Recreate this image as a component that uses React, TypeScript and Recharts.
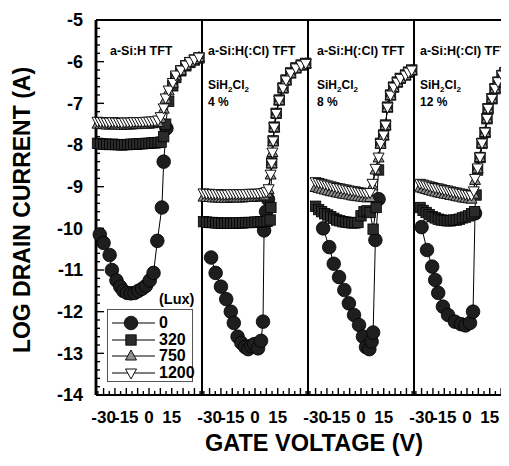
import React from 'react';
import { ComposedChart, Line, XAxis, YAxis, Legend, ReferenceLine } from 'recharts';

type Pt = [number, number];

const FONT = '"Liberation Sans", Arial, Helvetica, sans-serif';

// ---------- labels / categories ----------
const LUX_LEVELS = ['0', '320', '750', '1200'];
const MARKERS = ['circle', 'square', 'up', 'down'];
const PANEL_TITLES = ['a-Si:H TFT', 'a-Si:H(:Cl) TFT', 'a-Si:H(:Cl) TFT', 'a-Si:H(:Cl) TFT'];
const PANEL_GAS = ['', '4 %', '8 %', '12 %'];
const X_LABELS = [-30, -15, 0, 15];
const X_TICKS = [-33.75, -30, -26.25, -22.5, -18.75, -15, -11.25, -7.5, -3.75, 0, 3.75, 7.5, 11.25, 15, 18.75, 22.5, 26.25, 30, 33.75];
const Y_LABELS = [-14, -13, -12, -11, -10, -9, -8, -7, -6, -5];
const PANEL_SPAN = 70; // each panel shows gate voltage -35 .. 35 V
const X_DOMAIN: [number, number] = [-35, -35 + 4 * PANEL_SPAN];
const Y_DOMAIN: [number, number] = [-14, -5];
const X_TITLE = 'GATE VOLTAGE (V)';
const Y_TITLE = 'LOG DRAIN CURRENT (A)';
const LEGEND_UNIT = '(Lux)';

// ---------- panel 1 : a-Si:H TFT ----------
const P1_LUX0: Pt[] = [[-32.5, -10.15], [-30, -10.35], [-26, -10.64], [-24.5, -11.0], [-21.5, -11.25], [-19, -11.4], [-17, -11.5], [-14.5, -11.55], [-12, -11.56], [-9.5, -11.55], [-7, -11.5], [-4.5, -11.45], [-2, -11.38], [0.5, -11.25], [3, -11.07], [5.5, -10.3], [8.5, -9.5], [9.7, -8.4], [11.5, -7.6]];
const P1_LUX320: Pt[] = [[-34, -7.96], [-32, -7.97], [-30, -7.98], [-28, -7.98], [-26, -7.99], [-24, -7.98], [-22, -7.99], [-20, -7.99], [-18, -8.0], [-16, -7.99], [-14, -7.99], [-12, -7.98], [-10, -7.98], [-8, -7.98], [-6, -7.97], [-4, -7.97], [-2, -7.96], [0, -7.96], [2, -7.95], [4, -7.95], [6, -7.94], [8, -7.93], [9.7, -7.8], [11, -7.5], [13, -6.95], [15.7, -6.58], [17.7, -6.38], [21, -6.22], [24.3, -6.1], [27, -6.02], [30, -5.96], [33, -5.91]];
const P1_LUX750: Pt[] = [[-34, -7.5], [-32, -7.51], [-30, -7.51], [-28, -7.52], [-26, -7.52], [-24, -7.51], [-22, -7.52], [-20, -7.52], [-18, -7.53], [-16, -7.52], [-14, -7.52], [-12, -7.52], [-10, -7.51], [-8, -7.51], [-6, -7.51], [-4, -7.5], [-2, -7.5], [0, -7.5], [2, -7.49], [4, -7.48], [6, -7.46], [7.7, -7.36], [9.7, -7.14], [11, -6.9], [13, -6.7], [15.7, -6.52], [17.7, -6.34], [21, -6.21], [24.3, -6.09], [27, -6.01], [30, -5.95], [33, -5.9]];
const P1_LUX1200: Pt[] = [[-34, -7.43], [-32, -7.44], [-30, -7.44], [-28, -7.45], [-26, -7.45], [-24, -7.44], [-22, -7.45], [-20, -7.45], [-18, -7.46], [-16, -7.45], [-14, -7.45], [-12, -7.45], [-10, -7.44], [-8, -7.44], [-6, -7.44], [-4, -7.44], [-2, -7.43], [0, -7.43], [2, -7.42], [4, -7.42], [6, -7.4], [7.7, -7.32], [9.7, -7.11], [11, -6.87], [13, -6.68], [15.7, -6.5], [17.7, -6.32], [21, -6.2], [24.3, -6.08], [27, -6.0], [30, -5.94], [33, -5.89]];

// ---------- panel 2 : SiH2Cl2 4 % ----------
const P2_LUX0: Pt[] = [[-29, -10.7], [-26, -11.07], [-22.5, -11.4], [-19, -11.7], [-16, -12.0], [-14, -12.27], [-11.5, -12.6], [-9, -12.75], [-6.5, -12.85], [-4.5, -12.9], [-2.5, -12.82], [-0.5, -12.78], [2, -12.88], [4, -12.7], [5.3, -12.24], [6, -10.05], [7.3, -9.6], [8.6, -9.3]];
const P2_LUX320: Pt[] = [[-34, -9.84], [-32, -9.85], [-30, -9.86], [-28, -9.86], [-26, -9.87], [-24, -9.87], [-22, -9.88], [-20, -9.88], [-18, -9.87], [-16, -9.88], [-14, -9.88], [-12, -9.87], [-10, -9.87], [-8, -9.87], [-6, -9.86], [-4, -9.86], [-2, -9.86], [0, -9.85], [2, -9.85], [4, -9.84], [6, -9.84], [8, -9.83], [10, -9.8], [10.5, -9.5], [11, -8.43], [12, -7.9], [12.7, -7.57], [14, -7.24], [16, -6.92], [18.5, -6.63], [20.5, -6.44], [23.5, -6.27], [27, -6.15], [30.5, -6.08], [33.5, -6.04]];
const P2_LUX750: Pt[] = [[-34, -9.25], [-32, -9.26], [-30, -9.26], [-28, -9.27], [-26, -9.27], [-24, -9.27], [-22, -9.28], [-20, -9.28], [-18, -9.28], [-16, -9.27], [-14, -9.27], [-12, -9.27], [-10, -9.27], [-8, -9.27], [-6, -9.26], [-4, -9.26], [-2, -9.26], [0, -9.25], [2, -9.25], [4, -9.24], [6, -9.22], [8, -9.15], [9, -9.07], [10.3, -8.72], [11, -8.45], [11.5, -8.18], [12, -7.92], [12.7, -7.58], [14, -7.25], [16, -6.93], [18.5, -6.64], [20.5, -6.45], [23.5, -6.28], [27, -6.16], [30.5, -6.09], [33.5, -6.05]];
const P2_LUX1200: Pt[] = [[-34, -9.15], [-32, -9.16], [-30, -9.16], [-28, -9.17], [-26, -9.17], [-24, -9.17], [-22, -9.18], [-20, -9.18], [-18, -9.18], [-16, -9.17], [-14, -9.17], [-12, -9.17], [-10, -9.17], [-8, -9.17], [-6, -9.17], [-4, -9.16], [-2, -9.16], [0, -9.16], [2, -9.16], [4, -9.15], [6, -9.14], [7.5, -9.12], [9, -9.05], [10.3, -8.7], [11, -8.43], [11.5, -8.17], [12, -7.9], [12.7, -7.57], [14, -7.24], [16, -6.92], [18.5, -6.63], [20.5, -6.44], [23.5, -6.27], [27, -6.15], [30.5, -6.08], [33.5, -6.04]];

// ---------- panel 3 : SiH2Cl2 8 % ----------
const P3_LUX0: Pt[] = [[-25, -10.0], [-21, -10.45], [-18, -10.85], [-14.5, -11.17], [-11, -11.48], [-8, -11.8], [-4.6, -12.08], [-1.3, -12.32], [1.3, -12.6], [3.3, -12.85], [5.5, -12.9], [7, -12.72], [8, -12.5], [9.5, -10.28], [11.6, -9.3]];
const P3_LUX320: Pt[] = [[-30, -9.47], [-28, -9.55], [-26, -9.6], [-24, -9.65], [-22, -9.68], [-20, -9.72], [-18, -9.76], [-16, -9.8], [-14, -9.82], [-12, -9.84], [-10, -9.85], [-8, -9.86], [-6, -9.87], [-4, -9.87], [-2, -9.86], [0, -9.7], [2, -9.6], [4, -9.58], [6, -9.62], [8, -10.02], [10, -9.5], [11.6, -8.6], [12.9, -7.96], [14.9, -7.76], [16.2, -7.52], [17.5, -7.09], [19.5, -6.8], [21.5, -6.61], [24, -6.49], [26, -6.4], [29.4, -6.32], [31.4, -6.25], [33.5, -6.2]];
const P3_LUX750: Pt[] = [[-30, -9.02], [-28, -9.04], [-26, -9.06], [-24, -9.08], [-22, -9.1], [-20, -9.12], [-18, -9.13], [-16, -9.15], [-14, -9.16], [-12, -9.18], [-10, -9.19], [-8, -9.2], [-6, -9.22], [-4, -9.23], [-2, -9.24], [0, -9.25], [2, -9.26], [4, -9.27], [6, -9.26], [7.6, -8.98], [9.6, -8.6], [11.6, -8.31], [12.9, -7.98], [14.9, -7.77], [16.2, -7.53], [17.5, -7.1], [19.5, -6.81], [21.5, -6.62], [24, -6.5], [26, -6.41], [29.4, -6.33], [31.4, -6.26], [33.5, -6.21]];
const P3_LUX1200: Pt[] = [[-30, -8.88], [-28, -8.9], [-26, -8.92], [-24, -8.94], [-22, -8.96], [-20, -8.98], [-18, -9.0], [-16, -9.02], [-14, -9.03], [-12, -9.05], [-10, -9.06], [-8, -9.08], [-6, -9.09], [-4, -9.1], [-2, -9.12], [0, -9.13], [2, -9.14], [4, -9.15], [6, -9.14], [7.6, -8.92], [9.6, -8.56], [11.6, -8.29], [12.9, -7.96], [14.9, -7.76], [16.2, -7.52], [17.5, -7.09], [19.5, -6.8], [21.5, -6.61], [24, -6.49], [26, -6.4], [29.4, -6.32], [31.4, -6.25], [33.5, -6.2]];

// ---------- panel 4 : SiH2Cl2 12 % ----------
const P4_LUX0: Pt[] = [[-30, -9.97], [-26.4, -10.52], [-23, -10.92], [-21, -11.24], [-19, -11.55], [-15.9, -11.88], [-12.5, -12.08], [-8, -12.24], [-4, -12.3], [-1, -12.33], [2, -12.27], [4, -12.0], [5.3, -9.64]];
const P4_LUX320: Pt[] = [[-31, -9.5], [-29, -9.57], [-27, -9.62], [-25, -9.67], [-23, -9.72], [-21, -9.75], [-19, -9.78], [-17, -9.8], [-15, -9.81], [-13, -9.82], [-11, -9.82], [-9, -9.8], [-7, -9.8], [-5, -9.78], [-3, -9.75], [-1, -9.73], [1, -9.7], [3, -9.65], [5, -9.6], [6, -9.2], [7, -8.6], [8.6, -8.3], [9.9, -7.96], [11.9, -7.7], [13.2, -7.37], [13.9, -7.13], [16.5, -6.89], [18.5, -6.65], [20.5, -6.49], [23.1, -6.33], [25.1, -6.26], [27, -6.16], [30, -6.09], [33, -6.04]];
const P4_LUX750: Pt[] = [[-31, -9.03], [-29, -9.05], [-27, -9.07], [-25, -9.09], [-23, -9.11], [-21, -9.13], [-19, -9.15], [-17, -9.16], [-15, -9.18], [-13, -9.19], [-11, -9.21], [-9, -9.22], [-7, -9.24], [-5, -9.25], [-3, -9.27], [-1, -9.28], [1, -9.29], [3, -9.3], [4.5, -9.18], [5.3, -8.85], [7, -8.57], [8.6, -8.3], [9.9, -7.96], [11.9, -7.7], [13.2, -7.37], [13.9, -7.13], [16.5, -6.89], [18.5, -6.65], [20.5, -6.49], [23.1, -6.33], [25.1, -6.26], [27, -6.16], [30, -6.09], [33, -6.04]];
const P4_LUX1200: Pt[] = [[-31, -8.92], [-29, -8.94], [-27, -8.96], [-25, -8.98], [-23, -9.0], [-21, -9.02], [-19, -9.03], [-17, -9.05], [-15, -9.07], [-13, -9.08], [-11, -9.1], [-9, -9.12], [-7, -9.13], [-5, -9.15], [-3, -9.16], [-1, -9.18], [1, -9.19], [3, -9.2], [4.5, -9.1], [5.3, -8.8], [7, -8.55], [8.6, -8.29], [9.9, -7.95], [11.9, -7.69], [13.2, -7.36], [13.9, -7.12], [16.5, -6.88], [18.5, -6.64], [20.5, -6.48], [23.1, -6.32], [25.1, -6.25], [27, -6.15], [30, -6.08], [33, -6.03]];

const PANELS: Pt[][][] = [
  [P1_LUX0, P1_LUX320, P1_LUX750, P1_LUX1200],
  [P2_LUX0, P2_LUX320, P2_LUX750, P2_LUX1200],
  [P3_LUX0, P3_LUX320, P3_LUX750, P3_LUX1200],
  [P4_LUX0, P4_LUX320, P4_LUX750, P4_LUX1200],
];

// panel k is placed on a shared axis, shifted by k * PANEL_SPAN
const panelOf = (val: number) => Math.floor((val - X_DOMAIN[0]) / PANEL_SPAN);
const localV = (val: number) => Math.round((val - panelOf(val) * PANEL_SPAN) * 1000) / 1000;
const ALL_X_TICKS = [0, 1, 2, 3].flatMap((k) => X_TICKS.map((t) => t + k * PANEL_SPAN));
const DIVIDERS = [1, 2, 3].map((k) => X_DOMAIN[0] + k * PANEL_SPAN);
const Y_TICKS: number[] = Y_LABELS.flatMap((v, i) =>
  i < Y_LABELS.length - 1 ? [0, 0.2, 0.4, 0.6, 0.8].map((d) => Math.round((v + d) * 10) / 10) : [v]
);

const CHART_W = 520;
const CHART_H = 466;
const PLOT_W = CHART_W - 96;
const PLOT_H = CHART_H - 20 - 71;
// inward tick-mark lengths, expressed in data units so the chart scales place them
const PX_PER_V = PLOT_W / (X_DOMAIN[1] - X_DOMAIN[0]);
const PX_PER_DEC = PLOT_H / (Y_DOMAIN[1] - Y_DOMAIN[0]);
const X_TICK_SEGS = ALL_X_TICKS.map((t) => {
  const v = localV(t);
  const major = Math.abs(v / 7.5 - Math.round(v / 7.5)) < 1e-6;
  return [{ x: t, y: Y_DOMAIN[0] }, { x: t, y: Y_DOMAIN[0] + (major ? 7 : 4) / PX_PER_DEC }];
});
const Y_TICK_SEGS = Y_TICKS.map((t) => {
  const major = Math.abs(t - Math.round(t)) < 1e-6;
  return [{ x: X_DOMAIN[0], y: t }, { x: X_DOMAIN[0] + (major ? 8 : 4) / PX_PER_V, y: t }];
});

function Marker({ shape, cx, cy }: { shape: string; cx: number; cy: number }) {
  if (cx == null || cy == null || isNaN(cx) || isNaN(cy)) return null;
  if (shape === 'circle') return <circle cx={cx} cy={cy} r={6.8} fill="#1e1e1e" stroke="#000" strokeWidth={0.8} />;
  if (shape === 'square') return <rect x={cx - 5.2} y={cy - 5.2} width={10.4} height={10.4} fill="#2b2b2b" stroke="#000" strokeWidth={0.8} />;
  if (shape === 'up')
    return <polygon points={`${cx},${cy - 6} ${cx - 5.5},${cy + 4} ${cx + 5.5},${cy + 4}`} fill="#8e8e8e" stroke="#111" strokeWidth={1} />;
  return <polygon points={`${cx},${cy + 6} ${cx - 5.5},${cy - 4} ${cx + 5.5},${cy - 4}`} fill="#ffffff" stroke="#111" strokeWidth={1} />;
}

// tick props: y = axis line + tickSize(6) + tickMargin(2)
const XTick = (props: any) => {
  const x = Number(props.x);
  const axisY = Number(props.y) - 8;
  const v = localV(Number(props.payload.value));
  if (!X_LABELS.includes(v)) return <g />;
  return (
    <text x={x} y={axisY + 28} textAnchor="middle" fontFamily={FONT} fontWeight="bold" fontSize={17} fill="#000">
      {v}
    </text>
  );
};

const YTick = (props: any) => {
  const axisX = Number(props.x) + 8;
  const y = Number(props.y);
  const v = Number(props.payload.value);
  const major = Math.abs(v - Math.round(v)) < 1e-6;
  if (!major) return <g />;
  return (
    <text x={axisX - 13} y={y} dy="0.36em" textAnchor="end" fontFamily={FONT} fontWeight="bold" fontSize={18} fill="#000">
      {Math.round(v)}
    </text>
  );
};

const renderLegend = (props: any) => {
  const payload = ((props.payload || []) as any[])
    .filter((e, i, arr) => LUX_LEVELS.includes(String(e.value)) && arr.findIndex((o) => o.value === e.value) === i)
    .sort((a, b) => LUX_LEVELS.indexOf(String(a.value)) - LUX_LEVELS.indexOf(String(b.value)));
  return (
    <div style={{ position: 'relative', width: 95, height: 95, fontFamily: FONT, fontWeight: 'bold', color: '#000' }}>
      <div style={{ position: 'absolute', left: 52, top: 1, fontSize: 14.5, lineHeight: '16px' }}>{LEGEND_UNIT}</div>
      <div
        style={{
          position: 'absolute', left: 0, top: 19, width: 86, height: 73, border: '1px solid #555',
          boxSizing: 'border-box', paddingTop: 5,
        }}
      >
        {payload.map((e: any, i: number) => {
          const idx = LUX_LEVELS.indexOf(String(e.value));
          return (
            <div key={i} style={{ display: 'flex', alignItems: 'center', height: 16.5 }}>
              <svg width={48} height={16} style={{ overflow: 'visible' }}>
                <line x1={4} x2={47} y1={8} y2={8} stroke="#000" strokeWidth={1} />
                <Marker shape={MARKERS[idx]} cx={23} cy={8} />
              </svg>
              <span style={{ fontSize: 16, marginLeft: 3, lineHeight: '16px' }}>{e.value}</span>
            </div>
          );
        })}
      </div>
    </div>
  );
};

const ANNOT_X = [110, 208, 317, 420];
const txt = (extra: React.CSSProperties): React.CSSProperties => ({
  position: 'absolute', fontFamily: FONT, fontWeight: 'bold', color: '#000', whiteSpace: 'nowrap', ...extra,
});

export default function App() {
  return (
    <div style={{ position: 'relative', width: 509, height: 466, overflow: 'hidden', margin: '-8px 0 0 -8px', background: '#fff' }}>
      <ComposedChart width={CHART_W} height={CHART_H} margin={{ top: 20, right: 0, bottom: 0, left: 0 }}>
        <XAxis
          dataKey="v" type="number" domain={X_DOMAIN} ticks={ALL_X_TICKS} interval={0}
          tick={<XTick />} tickLine={false} stroke="#000" strokeWidth={2} height={71}
        />
        <YAxis
          dataKey="i" type="number" domain={Y_DOMAIN} ticks={Y_TICKS} interval={0}
          tick={<YTick />} tickLine={false} stroke="#000" strokeWidth={2.5} width={96}
        />
        {X_TICK_SEGS.map((seg, j) => (
          <ReferenceLine key={`xt${j}`} segment={seg} stroke="#000" strokeWidth={1.4} ifOverflow="visible" />
        ))}
        {Y_TICK_SEGS.map((seg, j) => (
          <ReferenceLine key={`yt${j}`} segment={seg} stroke="#000" strokeWidth={1.4} ifOverflow="visible" />
        ))}
        <ReferenceLine y={Y_DOMAIN[1]} stroke="#000" strokeWidth={2} />
        <ReferenceLine y={Y_DOMAIN[0]} stroke="#000" strokeWidth={2} />
        <ReferenceLine x={X_DOMAIN[0]} stroke="#000" strokeWidth={2.5} />
        {DIVIDERS.map((d) => (
          <ReferenceLine key={d} x={d} stroke="#000" strokeWidth={2} />
        ))}
        {PANELS.flatMap((panel, k) =>
          panel.map((pts, si) => (
            <Line
              key={`${k}-${si}`}
              name={LUX_LEVELS[si]}
              legendType={k === 0 ? 'line' : 'none'}
              data={pts.map(([v, i]) => ({ v: v + k * PANEL_SPAN, i }))}
              dataKey="i"
              type="linear"
              stroke="#000"
              strokeWidth={1}
              isAnimationActive={false}
              activeDot={false}
              dot={(p: any) => <Marker key={`m-${k}-${si}-${p.index}`} shape={MARKERS[si]} cx={p.cx} cy={p.cy} />}
            />
          ))
        )}
        <Legend
          layout="horizontal" verticalAlign="middle" align="center" content={renderLegend}
          wrapperStyle={{ left: 107, top: 290, width: 95, height: 95 }}
        />
      </ComposedChart>

      <div
        style={txt({
          left: 22 - 200, top: 210 - 13, width: 400, height: 26, lineHeight: '26px', fontSize: 23,
          textAlign: 'center', transform: 'rotate(-90deg)',
        })}
      >
        {Y_TITLE}
      </div>
      <div style={txt({ left: 114, top: 430, width: 400, lineHeight: '27px', fontSize: 23.5, textAlign: 'center' })}>{X_TITLE}</div>
      {PANEL_TITLES.map((t, i) => (
        <div key={`t${i}`} style={txt({ left: ANNOT_X[i], top: 44, fontSize: 12.5, lineHeight: '14px' })}>
          {t}
        </div>
      ))}
      {PANEL_GAS.map((g, i) =>
        g ? (
          <React.Fragment key={`g${i}`}>
            <div style={txt({ left: ANNOT_X[i], top: 78, fontSize: 12, lineHeight: '14px' })}>
              SiH<span style={{ fontSize: 8, position: 'relative', top: 3 }}>2</span>Cl
              <span style={{ fontSize: 8, position: 'relative', top: 3 }}>2</span>
            </div>
            <div style={txt({ left: ANNOT_X[i], top: 95, fontSize: 12, lineHeight: '14px' })}>{g}</div>
          </React.Fragment>
        ) : null
      )}
    </div>
  );
}
